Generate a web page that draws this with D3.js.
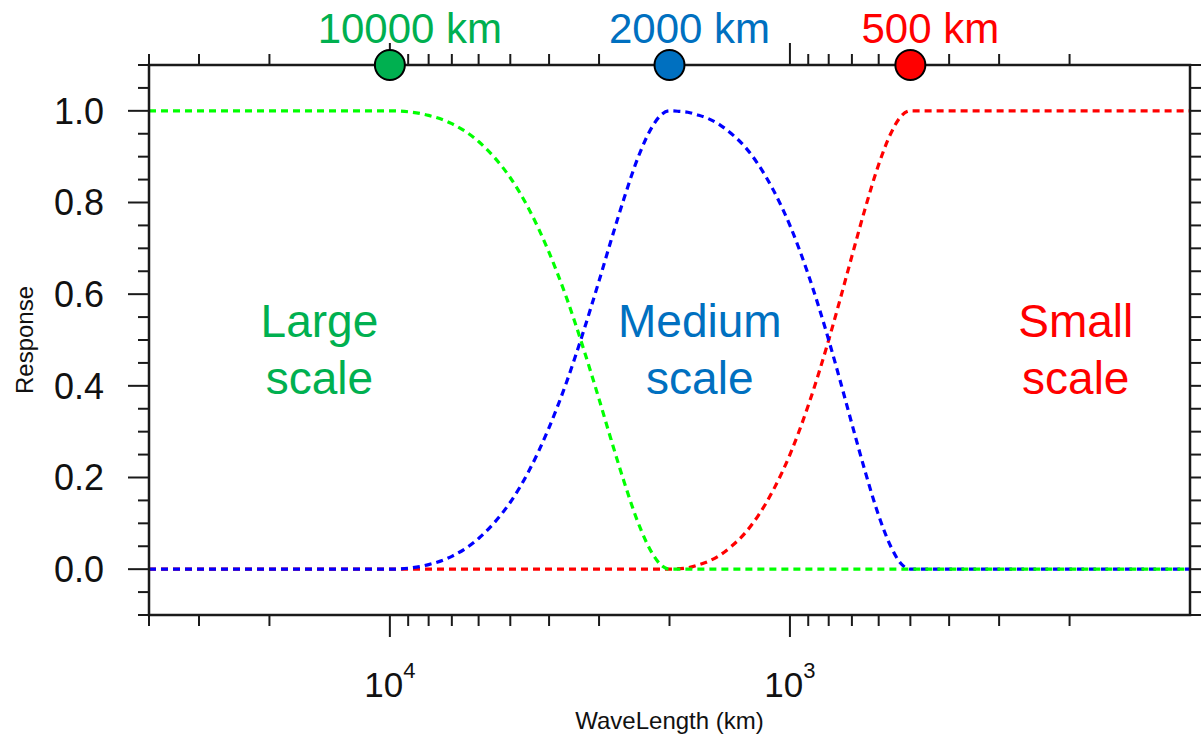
<!DOCTYPE html>
<html>
<head>
<meta charset="utf-8">
<script src="https://cdn.jsdelivr.net/npm/d3@7"></script>
<style>
  body { margin: 0; background: #fff; }
  svg { display: block; }
  text { font-family: "Liberation Sans", Arial, Helvetica, sans-serif; }
</style>
</head>
<body>
<svg id="chart" width="1201" height="737"></svg>
<script>
// Filter response versus wavelength (km) for the three scale bands
const wavelength = [40000, 30000, 20000, 15000, 12000, 10000,
  9000, 8000, 7000, 6000, 5500, 5000, 4500, 4000, 3600, 3300, 3000, 2800, 2600, 2400, 2200, 2100, 2000,
  1900, 1800, 1700, 1600, 1500, 1400, 1300, 1200, 1100, 1000, 900, 800, 750, 700, 650, 600, 560, 530, 500,
  400, 300, 200, 150, 100];

const largeScale = [1, 1, 1, 1, 1, 1,
  0.998, 0.990, 0.972, 0.933, 0.900, 0.854, 0.787, 0.691, 0.587, 0.488, 0.371, 0.283, 0.192, 0.103, 0.032, 0.009, 0,
  0, 0, 0, 0, 0, 0, 0, 0, 0, 0, 0, 0, 0, 0, 0, 0, 0, 0, 0,
  0, 0, 0, 0, 0];

const mediumScale = [0, 0, 0, 0, 0, 0,
  0.002, 0.010, 0.028, 0.067, 0.100, 0.146, 0.213, 0.309, 0.413, 0.512, 0.629, 0.717, 0.808, 0.897, 0.968, 0.991, 1.000,
  0.999, 0.997, 0.991, 0.983, 0.970, 0.950, 0.923, 0.883, 0.827, 0.750, 0.643, 0.500, 0.413, 0.317, 0.216, 0.117, 0.050, 0.014, 0,
  0, 0, 0, 0, 0];

const smallScale = [0, 0, 0, 0, 0, 0,
  0, 0, 0, 0, 0, 0, 0, 0, 0, 0, 0, 0, 0, 0, 0, 0, 0,
  0.001, 0.003, 0.009, 0.017, 0.030, 0.050, 0.077, 0.117, 0.173, 0.250, 0.357, 0.500, 0.587, 0.683, 0.784, 0.883, 0.950, 0.986, 1.000,
  1, 1, 1, 1, 1];

// Axis ticks
const yMajorTicks = [0, 0.2, 0.4, 0.6, 0.8, 1.0];
const yMinorTicks = [-0.1, -0.05, 0.05, 0.1, 0.15, 0.25, 0.3, 0.35, 0.45, 0.5, 0.55, 0.65, 0.7, 0.75, 0.85, 0.9, 0.95, 1.05, 1.1];
const xMajorTicks = [10000, 1000];
const xMinorTicks = [40000, 30000, 20000, 9000, 8000, 7000, 6000, 5000, 4000, 3000, 2000,
  900, 800, 700, 600, 500, 400, 300, 200];
const xTickExponents = ["4", "3"];

// Band cut-off wavelengths marked on the top axis
const cutoffWavelength = [10000, 2000, 500];
const cutoffLabels = ["10000 km", "2000 km", "500 km"];

// Band names
const bandNames = [["Large", "scale"], ["Medium", "scale"], ["Small", "scale"]];

const curveColors = ["#00ff00", "#0000ff", "#ff0000"];
const labelColors = ["#00b050", "#0070c0", "#ff0000"];

const svg = d3.select("#chart");
const plotLeft = 149, plotRight = 1190, plotTop = 65, plotBottom = 615;

const x = d3.scaleLog().domain([40000, 100]).range([plotLeft, plotRight]);
const y = d3.scaleLinear().domain([-0.1, 1.1]).range([plotBottom, plotTop]);

const axisColor = "#1a1a1a";

// Tick marks on all four sides, pointing outward
const tickG = svg.append("g").attr("stroke", axisColor).attr("stroke-width", 2);
function drawXTicks(values, len) {
  values.forEach(v => {
    const px = x(v);
    tickG.append("line").attr("x1", px).attr("x2", px).attr("y1", plotBottom).attr("y2", plotBottom + len);
    tickG.append("line").attr("x1", px).attr("x2", px).attr("y1", plotTop).attr("y2", plotTop - len);
  });
}
function drawYTicks(values, len) {
  values.forEach(v => {
    const py = y(v);
    tickG.append("line").attr("x1", plotLeft).attr("x2", plotLeft - len).attr("y1", py).attr("y2", py);
    tickG.append("line").attr("x1", plotRight).attr("x2", plotRight + len).attr("y1", py).attr("y2", py);
  });
}
drawXTicks(xMinorTicks, 11);
drawXTicks(xMajorTicks, 22);
drawYTicks(yMinorTicks, 11);
drawYTicks(yMajorTicks, 21);

// Y tick labels
svg.append("g").selectAll("text").data(yMajorTicks).join("text")
  .attr("x", 104).attr("y", d => y(d)).attr("dy", "0.36em")
  .attr("text-anchor", "end").attr("font-size", 36).attr("fill", "#111")
  .text(d3.format(".1f"));

// X tick labels as powers of ten
const xl = svg.append("g").selectAll("text").data(xMajorTicks).join("text")
  .attr("x", d => x(d)).attr("y", 697)
  .attr("text-anchor", "middle").attr("fill", "#111");
xl.append("tspan").attr("font-size", 35).text("10");
xl.append("tspan").attr("font-size", 22).attr("dy", -19).text((d, i) => xTickExponents[i]);

// Axis titles
svg.append("text").attr("x", (plotLeft + plotRight) / 2).attr("y", 729)
  .attr("text-anchor", "middle").attr("font-size", 24).attr("fill", "#111")
  .text("WaveLength (km)");
svg.append("text").attr("transform", "translate(33,340) rotate(-90)")
  .attr("text-anchor", "middle").attr("font-size", 24).attr("fill", "#111")
  .text("Response");

// Response curves: small, medium, then large on top
const series = [largeScale, mediumScale, smallScale];
const line = d3.line()
  .x(d => x(d[0]))
  .y(d => y(d[1]))
  .curve(d3.curveMonotoneX);
const plot = svg.append("g");
[2, 1, 0].forEach(i => {
  const pts = wavelength.map((w, j) => [w, series[i][j]]);
  plot.append("path").attr("d", line(pts))
    .attr("fill", "none").attr("stroke", curveColors[i])
    .attr("stroke-width", 3.2).attr("stroke-dasharray", "7,5");
});

// Frame
svg.append("rect").attr("x", plotLeft).attr("y", plotTop)
  .attr("width", plotRight - plotLeft).attr("height", plotBottom - plotTop)
  .attr("fill", "none").attr("stroke", axisColor).attr("stroke-width", 2.5);

// Band names inside the plot
const bandAnchor = [15000, 1680, 193];
bandNames.forEach((lines, i) => {
  const t = svg.append("text").attr("x", x(bandAnchor[i])).attr("y", y(0.5))
    .attr("text-anchor", "middle").attr("font-size", 46).attr("fill", labelColors[i]);
  lines.forEach((s, k) => {
    t.append("tspan").attr("x", x(bandAnchor[i])).attr("dy", k === 0 ? -3 : 57).text(s);
  });
});

// Cut-off markers on the top axis
cutoffWavelength.forEach((w, i) => {
  svg.append("circle").attr("cx", x(w)).attr("cy", plotTop).attr("r", 15)
    .attr("fill", labelColors[i]).attr("stroke", "#000").attr("stroke-width", 2);
  svg.append("text").attr("x", x(w) + 20).attr("y", 43)
    .attr("text-anchor", "middle").attr("font-size", 42).attr("fill", labelColors[i])
    .text(cutoffLabels[i]);
});
</script>
</body>
</html>
